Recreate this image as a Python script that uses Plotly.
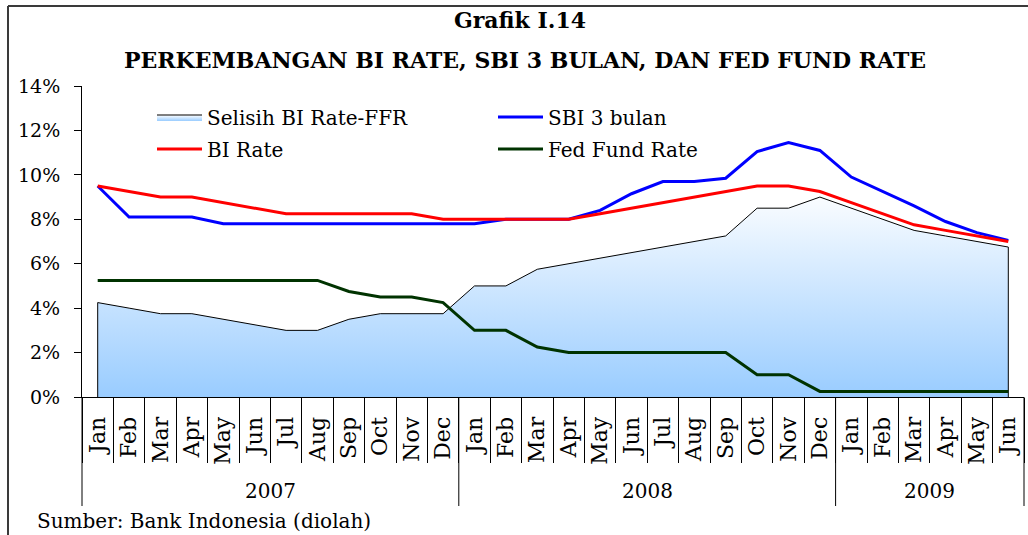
import plotly.graph_objects as go

# ---------------- data ----------------
months = ["Jan", "Feb", "Mar", "Apr", "May", "Jun", "Jul", "Aug", "Sep", "Oct", "Nov", "Dec",
          "Jan", "Feb", "Mar", "Apr", "May", "Jun", "Jul", "Aug", "Sep", "Oct", "Nov", "Dec",
          "Jan", "Feb", "Mar", "Apr", "May", "Jun"]
years = ["2007", "2008", "2009"]
year_lengths = [12, 12, 6]

bi_rate = [9.50, 9.25, 9.00, 9.00, 8.75, 8.50, 8.25, 8.25, 8.25, 8.25, 8.25, 8.00,
           8.00, 8.00, 8.00, 8.00, 8.25, 8.50, 8.75, 9.00, 9.25, 9.50, 9.50, 9.25,
           8.75, 8.25, 7.75, 7.50, 7.25, 7.00]
sbi_3_bulan = [9.50, 8.10, 8.10, 8.10, 7.80, 7.80, 7.80, 7.80, 7.80, 7.80, 7.80, 7.80,
               7.80, 8.00, 8.00, 8.00, 8.40, 9.15, 9.70, 9.70, 9.85, 11.05, 11.45, 11.10,
               9.90, 9.25, 8.60, 7.90, 7.40, 7.05]
fed_fund_rate = [5.25, 5.25, 5.25, 5.25, 5.25, 5.25, 5.25, 5.25, 4.75, 4.50, 4.50, 4.25,
                 3.00, 3.00, 2.25, 2.00, 2.00, 2.00, 2.00, 2.00, 2.00, 1.00, 1.00, 0.25,
                 0.25, 0.25, 0.25, 0.25, 0.25, 0.25]
selisih = [4.25, 4.00, 3.75, 3.75, 3.50, 3.25, 3.00, 3.00, 3.50, 3.75, 3.75, 3.75,
           5.00, 5.00, 5.75, 6.00, 6.25, 6.50, 6.75, 7.00, 7.25, 8.50, 8.50, 9.00,
           8.50, 8.00, 7.50, 7.25, 7.00, 6.75]
y_ticks = [0, 2, 4, 6, 8, 10, 12, 14]
y_tick_labels = ["0%", "2%", "4%", "6%", "8%", "10%", "12%", "14%"]

# ---------------- geometry helpers ----------------
W, H = 1028, 535
ML, MR, MT, MB = 82, 4, 86, 138
PW, PH = W - ML - MR, H - MT - MB
n = len(months)
idx = list(range(n))


def px_x(px):
    return (px - ML) / PW


def px_y(py):
    return (H - MB - py) / PH


FONT = "DejaVu Serif"

fig = go.Figure()

# spread area (with closed vertical edges)
fig.add_trace(go.Scatter(
    x=[idx[0]] + idx + [idx[-1]],
    y=[0] + selisih + [0],
    mode="lines",
    name="Selisih BI Rate-FFR",
    fill="tozeroy",
    fillcolor="#CFE4FF",
    fillgradient=dict(type="vertical", start=0, stop=9.5,
                      colorscale=[[0, "#99CCFF"], [1, "#FFFFFF"]]),
    line=dict(color="black", width=1),
    legend="legend",
))
fig.add_trace(go.Scatter(x=idx, y=sbi_3_bulan, mode="lines", name="SBI 3 bulan",
                         line=dict(color="#0000FF", width=3), legend="legend"))
fig.add_trace(go.Scatter(x=idx, y=bi_rate, mode="lines", name="BI Rate",
                         line=dict(color="#FF0000", width=3), legend="legend2"))
fig.add_trace(go.Scatter(x=idx, y=fed_fund_rate, mode="lines", name="Fed Fund Rate",
                         line=dict(color="#003300", width=3), legend="legend2"))

# invisible trace to activate boundary-tick axis
fig.add_trace(go.Scatter(x=[idx[0], idx[-1]], y=[None, None], xaxis="x2", yaxis="y",
                         showlegend=False, hoverinfo="skip"))

fig.update_layout(
    width=W, height=H,
    margin=dict(l=ML, r=MR, t=MT, b=MB),
    paper_bgcolor="white", plot_bgcolor="white",
    font=dict(family=FONT, size=20, color="black"),
    showlegend=True,
    title=dict(text="<b>Grafik I.14</b>", x=520 / W, y=1 - 20 / H,
               xanchor="center", yanchor="middle", xref="container", yref="container",
               font=dict(family=FONT, size=22, color="black")),
    xaxis=dict(range=[-0.5, n - 0.5], tickvals=idx, ticktext=months, tickangle=-90,
               showline=True, linecolor="black", linewidth=1, showgrid=False,
               zeroline=False, ticks="", ticklabelstandoff=10,
               tickfont=dict(family=FONT, size=22, color="black")),
    xaxis2=dict(range=[-0.5, n - 0.5], overlaying="x", anchor="y", side="bottom",
                tickvals=[i - 0.5 for i in range(n + 1)], ticks="outside", ticklen=65,
                tickcolor="black", tickwidth=1, showticklabels=False, showgrid=False,
                zeroline=False, showline=False),
    yaxis=dict(range=[0, 14], tickvals=y_ticks, ticktext=y_tick_labels, ticks="outside",
               ticklen=7, tickcolor="black", showline=True, linecolor="black",
               linewidth=1, showgrid=False, zeroline=False, ticklabelstandoff=10,
               tickfont=dict(family=FONT, size=19, color="black")),
    legend=dict(orientation="h", x=px_x(152), xanchor="left", y=px_y(117), yanchor="middle",
                itemwidth=45, entrywidth=281, entrywidthmode="pixels",
                bgcolor="rgba(0,0,0,0)", font=dict(family=FONT, size=20, color="black"),
                traceorder="normal"),
    legend2=dict(orientation="h", x=px_x(152), xanchor="left", y=px_y(149), yanchor="middle",
                 itemwidth=45, entrywidth=281, entrywidthmode="pixels",
                 bgcolor="rgba(0,0,0,0)", font=dict(family=FONT, size=20, color="black"),
                 traceorder="normal"),
)

shapes = []
# y-axis line extension and year dividers
bounds = [0]
for L in year_lengths:
    bounds.append(bounds[-1] + L)
for b in bounds:
    shapes.append(dict(type="line", xref="paper", yref="paper",
                       x0=b / n, x1=b / n, y0=0, y1=px_y(506),
                       line=dict(color="black", width=1)))
# outer frame (top and left)
shapes.append(dict(type="line", xref="paper", yref="paper", x0=px_x(8), x1=px_x(1040),
                   y0=px_y(6), y1=px_y(6), line=dict(color="#3A3A3A", width=2)))
shapes.append(dict(type="line", xref="paper", yref="paper", x0=px_x(8), x1=px_x(8),
                   y0=px_y(6), y1=px_y(545), line=dict(color="#3A3A3A", width=2)))
fig.update_layout(shapes=shapes)

annotations = []
for k, yr in enumerate(years):
    center = (bounds[k] + bounds[k + 1]) / 2 - 0.5
    annotations.append(dict(text=yr, x=center, xref="x", y=px_y(491), yref="paper",
                            xanchor="center", yanchor="middle", showarrow=False,
                            font=dict(family=FONT, size=20, color="black")))
annotations.append(dict(text="<b>PERKEMBANGAN BI RATE, SBI 3 BULAN, DAN FED FUND RATE</b>",
                        x=px_x(525), xref="paper", y=px_y(60), yref="paper",
                        xanchor="center", yanchor="middle", showarrow=False,
                        font=dict(family=FONT, size=22, color="black")))
annotations.append(dict(text="Sumber: Bank Indonesia (diolah)", x=px_x(35), xref="paper",
                        y=px_y(521), yref="paper", xanchor="left", yanchor="middle",
                        showarrow=False, font=dict(family=FONT, size=20, color="black")))
fig.update_layout(annotations=annotations)

fig.write_html("out.html",
               config={"displayModeBar": False},
               post_script="document.body.style.margin='0';document.body.style.padding='0';")
